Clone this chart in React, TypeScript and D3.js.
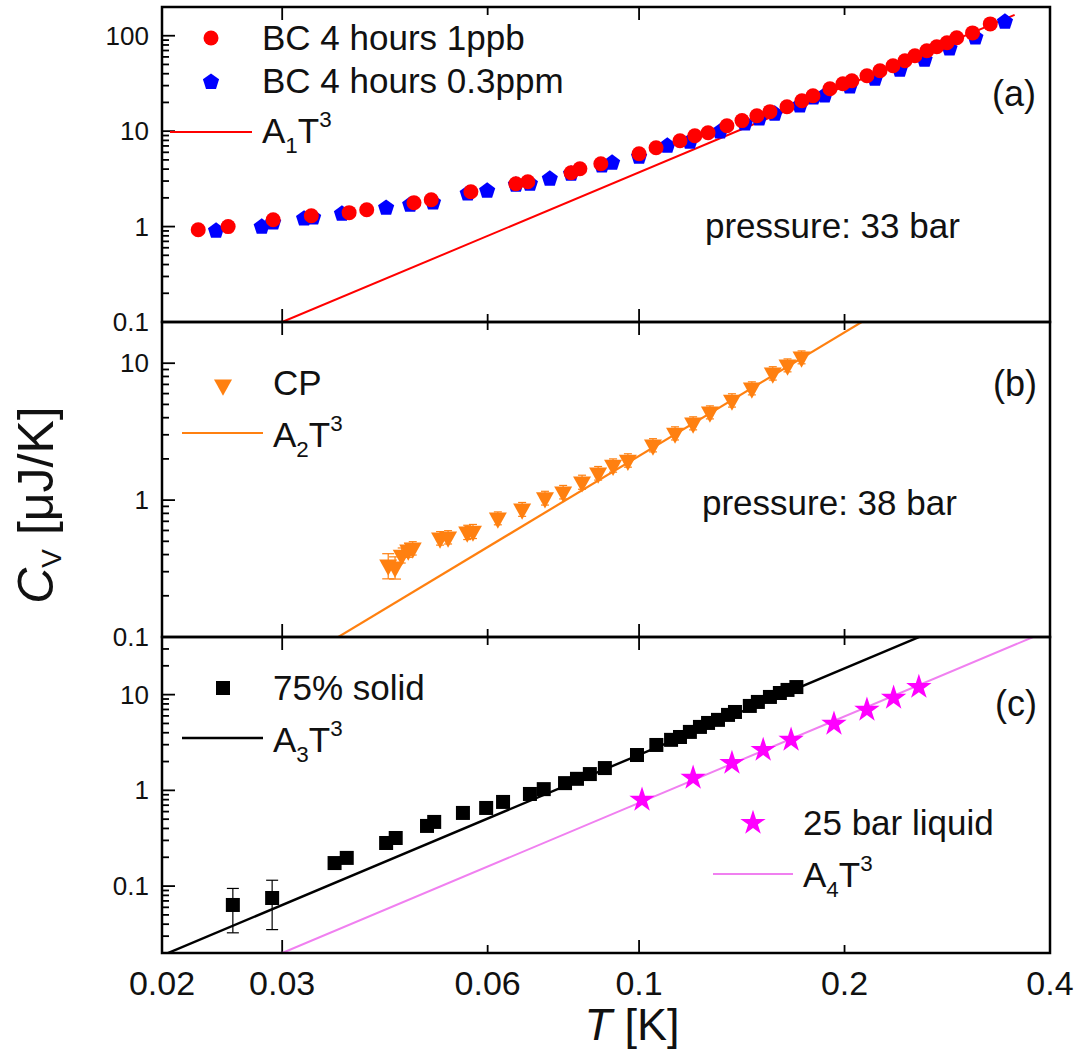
import React from 'react';
import * as d3 from 'd3';

// ---------- data ----------
const xTickValues = [0.02, 0.03, 0.06, 0.1, 0.2, 0.4];
const xMajorTicks = [0.03, 0.1];

// panel (a), 33 bar
const bc1ppbT = [0.0226, 0.025, 0.0291, 0.0331, 0.0376, 0.0399, 0.0468, 0.0496, 0.0567, 0.066, 0.0687, 0.0795, 0.0819, 0.0879, 0.1, 0.1059, 0.1148, 0.1207, 0.1262, 0.1345, 0.1415, 0.1488, 0.1555, 0.1647, 0.1732, 0.1798, 0.1904, 0.1989, 0.205, 0.2157, 0.2254, 0.2355, 0.2452, 0.2536, 0.264, 0.273, 0.2826, 0.292, 0.308, 0.327];
const bc1ppbCv = [0.925, 1.0, 1.18, 1.3, 1.4, 1.5, 1.78, 1.91, 2.32, 2.81, 2.95, 3.67, 4.04, 4.55, 5.8, 6.7, 7.93, 8.95, 9.62, 11.4, 12.9, 14.5, 16.0, 18.0, 20.8, 23.5, 27.8, 31.4, 33.8, 38.1, 43.0, 48.5, 54.7, 61.7, 69.6, 76.7, 84.5, 95.3, 107, 133];
const bc03ppmT = [0.024, 0.028, 0.0291, 0.0323, 0.0333, 0.0367, 0.0426, 0.0462, 0.0499, 0.0561, 0.0599, 0.066, 0.0692, 0.074, 0.0795, 0.0882, 0.0913, 0.1, 0.11, 0.1187, 0.1314, 0.1429, 0.15, 0.158, 0.172, 0.18, 0.187, 0.2036, 0.2216, 0.241, 0.262, 0.285, 0.311, 0.3436];
const bc03ppmCv = [0.904, 0.995, 1.1, 1.21, 1.24, 1.36, 1.57, 1.69, 1.78, 2.21, 2.37, 2.74, 2.81, 3.17, 3.57, 4.34, 4.66, 5.39, 7.03, 7.74, 9.86, 12.0, 13.5, 15.2, 18.5, 22.4, 23.5, 29.2, 35.4, 44.0, 56.0, 73.1, 95.3, 140];
const A1 = 3700;
const fit1T = [0.03, 0.355];

// panel (b), 38 bar
const cpT = [0.0429, 0.0439, 0.0449, 0.0459, 0.0466, 0.0511, 0.0525, 0.056, 0.0571, 0.0621, 0.0674, 0.0728, 0.0774, 0.0825, 0.0871, 0.0916, 0.0963, 0.1048, 0.1129, 0.12, 0.127, 0.1368, 0.1463, 0.157, 0.165, 0.173];
const cpCv = [0.336, 0.325, 0.397, 0.432, 0.447, 0.529, 0.538, 0.585, 0.594, 0.74, 0.861, 1.04, 1.15, 1.36, 1.58, 1.8, 1.96, 2.53, 3.09, 3.66, 4.4, 5.38, 6.59, 8.48, 9.7, 11.1];
const cpErr = [0.07, 0.06, 0.05, 0.05, 0.05, 0.06, 0.06, 0.07, 0.07, 0.08, 0.1, 0.12, 0.13, 0.16, 0.18, 0.2, 0.22, 0.28, 0.34, 0.4, 0.48, 0.6, 0.72, 0.95, 1.05, 1.2];
const A2 = 2100;
const fit2T = [0.036, 0.4];

// panel (c)
const solidT = [0.0254, 0.029, 0.0358, 0.0373, 0.0426, 0.044, 0.0489, 0.0501, 0.0552, 0.0597, 0.0632, 0.0692, 0.0725, 0.0779, 0.0811, 0.0847, 0.0891, 0.0993, 0.106, 0.1114, 0.1148, 0.1187, 0.1228, 0.1262, 0.1305, 0.135, 0.1382, 0.1453, 0.1493, 0.1555, 0.1608, 0.165, 0.17];
const solidCv = [0.0635, 0.0751, 0.174, 0.197, 0.282, 0.318, 0.425, 0.468, 0.581, 0.655, 0.757, 0.917, 1.03, 1.19, 1.32, 1.48, 1.71, 2.34, 2.98, 3.37, 3.61, 4.08, 4.6, 5.06, 5.45, 6.14, 6.59, 7.62, 8.39, 9.46, 10.4, 11.2, 12.0];
const solidErr = [0.031, 0.04, 0, 0, 0, 0, 0, 0, 0, 0, 0, 0, 0, 0, 0, 0, 0, 0, 0, 0, 0, 0, 0, 0, 0, 0, 0, 0, 0, 0, 0, 0, 0];
const A3 = 2350;
const fit3T = [0.02, 0.4];
const liquidT = [0.101, 0.12, 0.1368, 0.152, 0.167, 0.193, 0.2157, 0.236, 0.257];
const liquidCv = [0.794, 1.35, 1.93, 2.64, 3.37, 4.94, 6.92, 9.25, 12.0];
const A4 = 740;
const fit4T = [0.03, 0.4];

// ---------- layout ----------
const W = 1081, H = 1061;
const X0 = 162, X1 = 1050;
const FONT = 'Liberation Sans, Arial, Helvetica, sans-serif';
const RED = '#ff0000', BLUE = '#0000ff', ORANGE = '#ff8010', MAG = '#ff00ff', VIOLET = '#f080f0';
const LEG = 35;

const x = d3.scaleLog().domain([0.02, 0.4]).range([X0, X1]);
const panels = [
  { id: 'a', y: d3.scaleLog().domain([0.1, 200]).range([322, 7]), top: 7, bottom: 322 },
  { id: 'b', y: d3.scaleLog().domain([0.1, 20]).range([637, 322]), top: 322, bottom: 637 },
  { id: 'c', y: d3.scaleLog().domain([0.02, 40]).range([953, 637]), top: 637, bottom: 953 },
];

const isDecade = (v: number) => Math.abs(Math.log10(v) - Math.round(Math.log10(v))) < 1e-6;
const fmt = (v: number) => String(+v.toPrecision(3));

function pentagon(cx: number, cy: number, r: number) {
  const pts = d3.range(5).map(k => {
    const a = -Math.PI / 2 + k * 2 * Math.PI / 5;
    return [cx + r * Math.cos(a), cy + r * Math.sin(a)];
  });
  return 'M' + pts.map(p => p.join(',')).join('L') + 'Z';
}
function triDown(cx: number, cy: number, s: number) {
  const h = s * 0.9;
  return `M${cx - s / 2},${cy - h / 3}L${cx + s / 2},${cy - h / 3}L${cx},${cy + 2 * h / 3}Z`;
}
const starPath = d3.symbol().type(d3.symbolStar).size(200)();

function SubSup({ x0, y0, sub, size }: { x0: number; y0: number; sub: string; size: number }) {
  return (
    <text x={x0} y={y0} fontSize={size} fontFamily={FONT} fill="#111">
      A<tspan fontSize={size * 0.64} dy={10}>{sub}</tspan>
      <tspan fontSize={size} dy={-10}>T</tspan>
      <tspan fontSize={size * 0.64} dy={-16}>3</tspan>
    </text>
  );
}

function ErrBar({ cx, y, v, e, color, cap }: any) {
  if (!e) return null;
  const y1 = y(v + e), y2 = y(Math.max(v - e, 1e-6));
  return (
    <g stroke={color} strokeWidth={1.2}>
      <line x1={cx} x2={cx} y1={y1} y2={y2} />
      <line x1={cx - cap} x2={cx + cap} y1={y1} y2={y1} />
      <line x1={cx - cap} x2={cx + cap} y1={y2} y2={y2} />
    </g>
  );
}

function fitLine(A: number, range: number[], y: any) {
  const g = d3.line<number>().x(t => x(t)).y(t => y(A * t * t * t));
  return g(range) || '';
}

export default function App() {
  const [pa, pb, pc] = panels;
  return (
    <svg width={W} height={H} style={{ position: 'absolute', left: 0, top: 0, background: '#fff' }} fontFamily={FONT}>
      <defs>
        {panels.map(p => (
          <clipPath id={'clip' + p.id} key={p.id}>
            <rect x={X0} y={p.top} width={X1 - X0} height={p.bottom - p.top} />
          </clipPath>
        ))}
      </defs>
      <rect width={W} height={H} fill="#fff" />

      {/* axes ticks */}
      {panels.map(p => (
        <g key={'ax' + p.id} stroke="#000">
          {p.y.ticks().filter(v => v >= p.y.domain()[0] - 1e-9 && v <= p.y.domain()[1] + 1e-9).map((v, i) => (
            <line key={i} x1={X0} x2={X0 + (isDecade(v) ? 13 : 7)} y1={p.y(v)} y2={p.y(v)} strokeWidth={1.8} />
          ))}
          {xTickValues.slice(1, -1).map((t, i) => {
            const L = xMajorTicks.includes(t) ? 13 : 8;
            return (
              <g key={i} strokeWidth={1.8}>
                <line x1={x(t)} x2={x(t)} y1={p.top} y2={p.top + L} />
                <line x1={x(t)} x2={x(t)} y1={p.bottom} y2={p.bottom - L} />
              </g>
            );
          })}
        </g>
      ))}

      {/* y tick labels */}
      {panels.map(p => (
        <g key={'yl' + p.id}>
          {p.y.ticks().filter(isDecade).filter(v => v >= p.y.domain()[0] - 1e-9 && v <= p.y.domain()[1]).map((v, i) => (
            <text key={i} x={149} y={p.y(v) + 9} textAnchor="end" fontSize={26} fill="#111">{fmt(v)}</text>
          ))}
        </g>
      ))}

      {/* x tick labels */}
      {xTickValues.map((t, i) => (
        <text key={i} x={x(t)} y={995} textAnchor="middle" fontSize={34} fill="#111">{fmt(t)}</text>
      ))}

      {/* panel (a) */}
      <g clipPath="url(#clipa)">
        <path d={fitLine(A1, fit1T, pa.y)} stroke={RED} strokeWidth={2} fill="none" />
        {bc03ppmT.map((t, i) => (
          <path key={'b' + i} d={pentagon(x(t), pa.y(bc03ppmCv[i]), 8.5)} fill={BLUE} />
        ))}
        {bc1ppbT.map((t, i) => (
          <circle key={'r' + i} cx={x(t)} cy={pa.y(bc1ppbCv[i])} r={7.5} fill={RED} />
        ))}
      </g>

      {/* panel (b) */}
      <g clipPath="url(#clipb)">
        <path d={fitLine(A2, fit2T, pb.y)} stroke={ORANGE} strokeWidth={2.2} fill="none" />
        {cpT.map((t, i) => (
          <ErrBar key={'e' + i} cx={x(t)} y={pb.y} v={cpCv[i]} e={cpErr[i]} color={ORANGE} cap={i < 2 ? 6 : 4} />
        ))}
        {cpT.map((t, i) => (
          <path key={'t' + i} d={triDown(x(t), pb.y(cpCv[i]), 18)} fill={ORANGE} />
        ))}
      </g>

      {/* panel (c) */}
      <g clipPath="url(#clipc)">
        <path d={fitLine(A3, fit3T, pc.y)} stroke="#000" strokeWidth={2.4} fill="none" />
        <path d={fitLine(A4, fit4T, pc.y)} stroke={VIOLET} strokeWidth={2} fill="none" />
        {solidT.map((t, i) => (
          <ErrBar key={'e' + i} cx={x(t)} y={pc.y} v={solidCv[i]} e={solidErr[i]} color="#000" cap={6} />
        ))}
        {solidT.map((t, i) => (
          <rect key={'s' + i} x={x(t) - 7} y={pc.y(solidCv[i]) - 7} width={14} height={14} fill="#000" />
        ))}
        {liquidT.map((t, i) => (
          <path key={'st' + i} d={starPath || ''} transform={`translate(${x(t)},${pc.y(liquidCv[i])})`} fill={MAG} />
        ))}
      </g>

      {/* frames */}
      {panels.map(p => (
        <rect key={'f' + p.id} x={X0} y={p.top} width={X1 - X0} height={p.bottom - p.top} fill="none" stroke="#000" strokeWidth={2.5} />
      ))}

      {/* legends panel a */}
      <circle cx={211} cy={38} r={7.5} fill={RED} />
      <text x={262} y={50} fontSize={LEG} fill="#111">BC 4 hours 1ppb</text>
      <path d={pentagon(211, 82, 8.5)} fill={BLUE} />
      <text x={262} y={93} fontSize={LEG} fill="#111">BC 4 hours 0.3ppm</text>
      <line x1={170} x2={252} y1={132} y2={132} stroke={RED} strokeWidth={2} />
      <SubSup x0={262} y0={143} sub="1" size={LEG} />
      <text x={1036} y={106} textAnchor="end" fontSize={36} fill="#111">(a)</text>
      <text x={705} y={238} fontSize={LEG} fill="#111">pressure: 33 bar</text>

      {/* legends panel b */}
      <path d={triDown(223, 385, 18)} fill={ORANGE} />
      <text x={273} y={395} fontSize={LEG} fill="#111">CP</text>
      <line x1={182} x2={263} y1={433} y2={433} stroke={ORANGE} strokeWidth={2.2} />
      <SubSup x0={273} y0={447} sub="2" size={LEG} />
      <text x={1037} y={396} textAnchor="end" fontSize={36} fill="#111">(b)</text>
      <text x={702} y={515} fontSize={LEG} fill="#111">pressure: 38 bar</text>

      {/* legends panel c */}
      <rect x={223 - 7} y={688 - 7} width={14} height={14} fill="#000" />
      <text x={273} y={700} fontSize={LEG} fill="#111">75% solid</text>
      <line x1={182} x2={263} y1={738} y2={738} stroke="#000" strokeWidth={2.4} />
      <SubSup x0={273} y0={752} sub="3" size={LEG} />
      <path d={starPath || ''} transform="translate(753,823)" fill={MAG} />
      <text x={803} y={835} fontSize={LEG} fill="#111">25 bar liquid</text>
      <line x1={713} x2={793} y1={874} y2={874} stroke={VIOLET} strokeWidth={2} />
      <SubSup x0={803} y0={887} sub="4" size={LEG} />
      <text x={1037} y={716} textAnchor="end" fontSize={36} fill="#111">(c)</text>

      {/* axis titles */}
      <text x={632} y={1040} textAnchor="middle" fontSize={45} fill="#111">
        <tspan fontStyle="italic">T</tspan> [K]
      </text>
      <text transform="translate(53,505) rotate(-90)" textAnchor="middle" fontSize={50} fill="#111">
        <tspan fontStyle="italic">C</tspan>
        <tspan fontSize={28} dy={8}>V</tspan>
        <tspan dy={-8}> [μJ/K]</tspan>
      </text>
    </svg>
  );
}
